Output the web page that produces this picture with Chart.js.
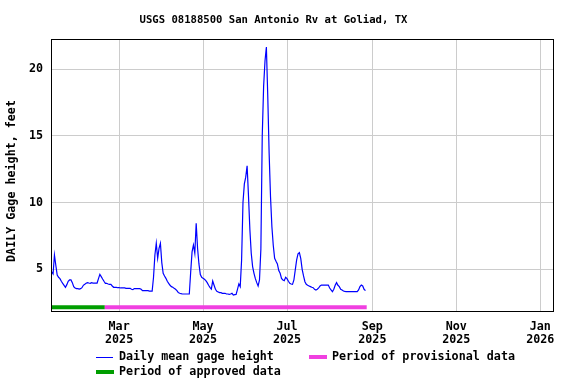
<!DOCTYPE html>
<html>
<head>
<meta charset="utf-8">
<script src="https://cdn.jsdelivr.net/npm/chart.js@4.4.1/dist/chart.umd.min.js"></script>
<style>
  html, body { margin: 0; padding: 0; background: #fff; }
  #wrap { width: 576px; height: 384px; }
</style>
</head>
<body>
<div id="wrap"><canvas id="gageChart" width="576" height="384"></canvas></div>
<script>
const titleText = 'USGS 08188500 San Antonio Rv at Goliad, TX';
const yTitle = 'DAILY Gage height, feet';

// x values are day of year 2025 (Jan 1 = 0); the series starts Jan 10
const firstDay = 10;
const gageHeight = [
  4.8, 4.65, 6.07, 5.3, 4.57, 4.4, 4.3, 4.1, 3.95, 3.8,
  3.65, 3.85, 4.1, 4.2, 4.2, 4.0, 3.7, 3.6, 3.55, 3.55,
  3.52, 3.55, 3.62, 3.8, 3.87, 3.95, 4.0, 3.97, 3.95, 4.0,
  3.97, 3.97, 3.97, 3.97, 4.3, 4.62, 4.45, 4.27, 4.1, 3.95,
  3.95, 3.9, 3.87, 3.87, 3.75, 3.65, 3.65, 3.65, 3.62, 3.62,
  3.6, 3.6, 3.6, 3.6, 3.57, 3.57, 3.57, 3.57, 3.5, 3.47,
  3.55, 3.55, 3.55, 3.55, 3.55, 3.5, 3.4, 3.4, 3.4, 3.4,
  3.4, 3.37, 3.37, 3.37, 4.4, 6.07, 6.95, 5.82, 6.57, 6.95,
  5.5, 4.7, 4.5, 4.32, 4.1, 3.95, 3.8, 3.7, 3.65, 3.57,
  3.5, 3.4, 3.25, 3.2, 3.17, 3.15, 3.15, 3.15, 3.15, 3.15,
  3.15, 4.8, 6.3, 6.82, 6.2, 8.45, 6.57, 5.4, 4.6, 4.4,
  4.32, 4.25, 4.15, 4.0, 3.8, 3.65, 3.52, 4.12, 3.8, 3.5,
  3.35, 3.3, 3.25, 3.25, 3.2, 3.2, 3.2, 3.15, 3.15, 3.12,
  3.15, 3.2, 3.07, 3.1, 3.12, 3.5, 3.9, 3.7, 5.7, 10.0,
  11.4, 11.9, 12.75, 10.5, 8.0, 6.2, 5.2, 4.7, 4.3, 4.0,
  3.75, 4.2, 6.5, 15.0, 18.7, 20.6, 21.65, 18.0, 13.7, 10.45,
  8.2, 6.8, 5.82, 5.6, 5.4, 4.9, 4.7, 4.32, 4.2, 4.15,
  4.4, 4.3, 4.1, 3.95, 3.9, 3.87, 4.2, 4.95, 5.7, 6.15,
  6.25, 5.8, 5.0, 4.5, 4.07, 3.87, 3.8, 3.75, 3.7, 3.65,
  3.62, 3.5, 3.45, 3.5, 3.6, 3.75, 3.82, 3.82, 3.82, 3.82,
  3.82, 3.82, 3.6, 3.45, 3.32, 3.5, 3.8, 4.0, 3.8, 3.7,
  3.5, 3.45, 3.37, 3.35, 3.32, 3.32, 3.32, 3.32, 3.32, 3.32,
  3.32, 3.32, 3.32, 3.45, 3.7, 3.82, 3.75, 3.5, 3.4
];

const tickDays = [59, 120, 181, 243, 304, 365];
const tickMonths = ['Mar', 'May', 'Jul', 'Sep', 'Nov', 'Jan'];
const tickYears = ['2025', '2025', '2025', '2025', '2025', '2026'];
const yTicks = [5, 10, 15, 20];

const approvedPeriod = [9.5, 48.6];
const provisionalPeriod = [48.6, 238.9];
const periodLevel = 2.15;

const FONT = '"DejaVu Sans Mono", monospace';

const lineData = gageHeight.map((v, i) => ({ x: firstDay + i, y: v }));
const periodData = (p) => [{ x: p[0], y: periodLevel }, { x: p[1], y: periodLevel }];

// title, frame and the two-row legend
const decorPlugin = {
  id: 'decor',
  afterDraw(chart) {
    const { ctx, chartArea: a } = chart;
    ctx.save();
    ctx.strokeStyle = '#000';
    ctx.lineWidth = 1;
    ctx.strokeRect(Math.round(a.left) + 0.5, Math.round(a.top) + 0.5,
      Math.round(a.right - a.left) - 1, Math.round(a.bottom - a.top) - 1);

    ctx.fillStyle = '#000';
    ctx.textBaseline = 'middle';
    ctx.textAlign = 'center';
    ctx.font = 'bold 10.6px ' + FONT;
    ctx.fillText(titleText, 273.5, 20.5);

    ctx.font = 'bold 11.7px ' + FONT;
    ctx.save();
    ctx.translate(11.5, 181);
    ctx.rotate(-Math.PI / 2);
    ctx.fillText(yTitle, 0, 0);
    ctx.restore();

    const items = [
      { ds: 0, x: 96, y: 357, w: 17 },
      { ds: 1, x: 309, y: 357, w: 18 },
      { ds: 2, x: 96, y: 372, w: 18 }
    ];
    ctx.textAlign = 'left';
    items.forEach(it => {
      const ds = chart.data.datasets[it.ds];
      const thin = ds.borderWidth < 2;
      ctx.strokeStyle = ds.borderColor;
      ctx.lineWidth = thin ? 1 : ds.borderWidth;
      ctx.lineCap = 'butt';
      ctx.beginPath();
      ctx.moveTo(it.x, it.y + (thin ? 0.5 : 0));
      ctx.lineTo(it.x + it.w, it.y + (thin ? 0.5 : 0));
      ctx.stroke();
      ctx.fillStyle = '#000';
      ctx.fillText(ds.label, it.x + 23, it.y);
    });
    ctx.restore();
  }
};

new Chart(document.getElementById('gageChart'), {
  type: 'line',
  data: {
    datasets: [
      {
        label: 'Daily mean gage height',
        data: lineData,
        borderColor: '#0000ff',
        borderWidth: 1.2,
        pointRadius: 0,
        tension: 0
      },
      {
        label: 'Period of provisional data',
        data: periodData(provisionalPeriod),
        borderColor: '#f040e0',
        borderWidth: 4,
        borderCapStyle: 'butt',
        pointRadius: 0
      },
      {
        label: 'Period of approved data',
        data: periodData(approvedPeriod),
        borderColor: '#009e00',
        borderWidth: 4,
        borderCapStyle: 'butt',
        pointRadius: 0
      }
    ]
  },
  options: {
    responsive: false,
    animation: false,
    devicePixelRatio: 1,
    layout: { padding: { top: 39, right: 22, left: 0, bottom: 0 } },
    plugins: {
      legend: { display: false },
      title: { display: false },
      tooltip: { enabled: false }
    },
    scales: {
      x: {
        type: 'linear',
        min: 9.5,
        max: 375,
        afterBuildTicks: (scale) => { scale.ticks = tickDays.map(v => ({ value: v })); },
        afterFit: (scale) => { scale.height = 72; },
        grid: { color: '#cccccc', drawTicks: false },
        border: { display: false },
        ticks: {
          autoSkip: false,
          maxRotation: 0,
          padding: 9,
          color: '#000',
          font: { family: FONT, size: 11.7, weight: 'bold', lineHeight: 1.1 },
          callback: (val, i) => [tickMonths[i], tickYears[i]]
        }
      },
      y: {
        min: 1.8,
        max: 22.25,
        afterBuildTicks: (scale) => { scale.ticks = yTicks.map(v => ({ value: v })); },
        afterFit: (scale) => { scale.width = 51; },
        grid: { color: '#cccccc', drawTicks: false },
        border: { display: false },
        ticks: {
          padding: 8,
          color: '#000',
          font: { family: FONT, size: 11.7, weight: 'bold' },
          callback: (val) => String(val)
        }
      }
    }
  },
  plugins: [decorPlugin]
});
</script>
</body>
</html>
